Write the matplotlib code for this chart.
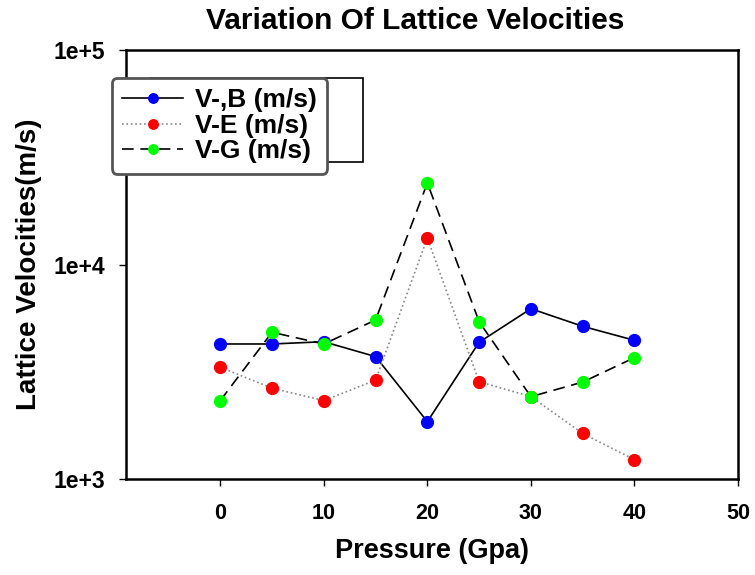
import numpy as np
import matplotlib
matplotlib.use('Agg')
from matplotlib import pyplot as plt
from matplotlib.patches import Rectangle
from matplotlib.ticker import FixedLocator, FixedFormatter, NullLocator

pressure = [0, 5, 10, 15, 20, 25, 30, 35, 40]
v_b = [4260, 4260, 4365, 3720, 1850, 4340, 6220, 5150, 4430]
v_e = [3320, 2650, 2320, 2890, 13300, 2840, 2420, 1630, 1230]
v_g = [2320, 4830, 4260, 5510, 24000, 5410, 2420, 2830, 3680]
labels = ['V-,B (m/s)', 'V-E (m/s)', 'V-G (m/s)']

x_ticks = [0, 10, 20, 30, 40, 50]
y_ticks = [1e3, 1e4, 1e5]
y_tick_labels = ['1e+3', '1e+4', '1e+5']

plt.rcParams['font.family'] = ['Liberation Sans', 'DejaVu Sans']

fig = plt.figure(figsize=(7.55, 5.75), dpi=100)
ax = fig.add_axes([0.1669, 0.167, 0.8106, 0.746])

ax.plot(pressure, v_b, '-', color='black', lw=1.2, marker='o', ms=8.5,
        mfc='blue', mec='blue', label=labels[0])
ax.plot(pressure, v_e, ':', color='#888888', lw=1.2, marker='o', ms=8.5,
        mfc='red', mec='red', label=labels[1])
ax.plot(pressure, v_g, color='black', lw=1.2, dashes=(7, 4), marker='o', ms=8.5,
        mfc='#00ff00', mec='#00ff00', label=labels[2])

ax.set_yscale('log')
ax.set_xlim(-9.1, 50)
ax.set_ylim(1e3, 1e5)
ax.yaxis.set_major_locator(FixedLocator(y_ticks))
ax.yaxis.set_major_formatter(FixedFormatter(y_tick_labels))
ax.yaxis.set_minor_locator(NullLocator())
ax.set_xticks(x_ticks)

for s in ax.spines.values():
    s.set_linewidth(1.8)
ax.tick_params(axis='y', length=5, width=1, pad=10, labelsize=16.5)
ax.tick_params(axis='x', length=5, width=1, pad=12.5, labelsize=15.5)
for t in ax.get_xticklabels() + ax.get_yticklabels():
    t.set_fontweight('bold')

ax.set_title('Variation Of Lattice Velocities', fontsize=21.5, fontweight='bold',
             pad=15, x=0.472)
ax.set_xlabel('Pressure (Gpa)', fontsize=19.5, fontweight='bold', labelpad=10)
ax.set_ylabel('Lattice Velocities(m/s)', fontsize=20, fontweight='bold', labelpad=8)

# stray frame behind the legend
ax.add_patch(Rectangle((0.039, 0.739), 0.348, 0.196, transform=ax.transAxes,
                       fill=False, ec='black', lw=1.2, clip_on=False, zorder=4))

leg = ax.legend(loc='upper left', bbox_to_anchor=(-0.023, 0.935), borderaxespad=0,
                frameon=True, fancybox=True, edgecolor='#555555', framealpha=1,
                prop={'weight': 'bold', 'size': 19},
                handlelength=2.3, labelspacing=0.05, borderpad=0.4,
                handletextpad=0.45, markerscale=0.8)
leg.get_frame().set_linewidth(2)
leg.set_zorder(5)

fig.savefig('out.png', dpi=100)
